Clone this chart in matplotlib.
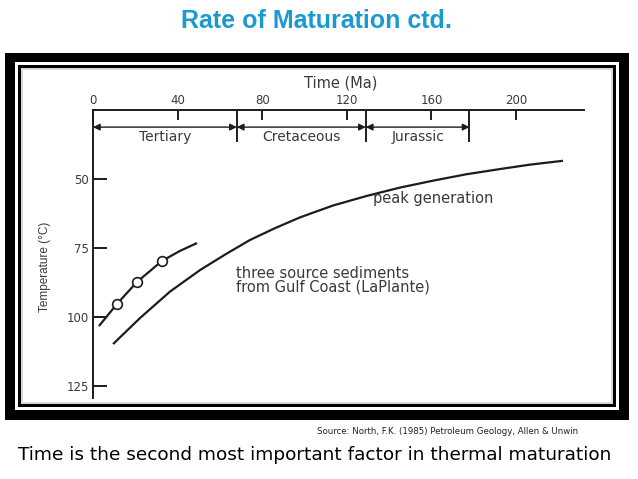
import matplotlib
matplotlib.use("Agg")
import matplotlib.pyplot as plt
from matplotlib.patches import Rectangle

# ---- data ----
time_ticks = [0, 40, 80, 120, 160, 200]
temp_ticks = [50, 75, 100, 125]
period_names = ["Tertiary", "Cretaceous", "Jurassic"]
period_bounds = [0, 68, 129, 178]

sample_t = [11.3, 20.8, 32.6]
sample_T = [95.3, 87.3, 79.7]

upper_t = [2.8, 11.3, 20.8, 32.6, 41.0, 49.2]
upper_T = [103.3, 95.3, 87.3, 79.7, 76.1, 73.2]

peak_t = [9.5, 22.2, 36.4, 50.6, 62.4, 74.2, 86.1, 97.9, 113.5, 129.6, 145.2, 160.8, 176.4, 192.4, 206.6, 222.2]
peak_T = [109.8, 100.4, 90.8, 83.0, 77.4, 72.1, 67.8, 63.9, 59.6, 56.1, 53.1, 50.6, 48.3, 46.4, 44.8, 43.4]

W, H = 638, 479
fig = plt.figure(figsize=(W / 100, H / 100), dpi=100)
fig.patch.set_facecolor("white")

def fr(x0, y0, x1, y1):
    # pixel box (top-left origin) -> figure fraction rect
    return (x0 / W, 1 - y1 / H), (x1 - x0) / W, (y1 - y0) / H

# frame
for (x0, y0, x1, y1, fc) in [(5, 53, 629, 420, "black"), (15, 62, 619, 410, "white"),
                             (18, 65, 616, 407, "black"), (21, 68, 613, 404, "#d8d8d8"),
                             (23, 70, 611, 402, "white")]:
    xy, w, h = fr(x0, y0, x1, y1)
    fig.add_artist(Rectangle(xy, w, h, transform=fig.transFigure, facecolor=fc,
                             edgecolor="none", zorder=-10))

ink = "#1c1c1c"
txt = "#3a3a3a"

# axes: left spine at t=0 (px 93), top spine at T=25 (px 110)
ax_l, ax_r, ax_t, ax_b = 93, 584, 110, 398
ax = fig.add_axes([ax_l / W, 1 - ax_b / H, (ax_r - ax_l) / W, (ax_b - ax_t) / H])
ax.set_zorder(5)
ax.set_facecolor("none")
ax.set_xlim(0, (ax_r - ax_l) / 2.115)
ax.set_ylim(50 + (ax_b - 179) / 2.76, 25)
for s in ["right", "bottom"]:
    ax.spines[s].set_visible(False)
for s in ["left", "top"]:
    ax.spines[s].set_linewidth(1.4)
    ax.spines[s].set_color(ink)

ax.xaxis.set_ticks_position("top")
ax.xaxis.set_label_position("top")
ax.set_xticks(time_ticks)
ax.set_xticklabels([str(v) for v in time_ticks])
ax.tick_params(axis="x", direction="in", length=7.5, width=1.4, color=ink, pad=2,
               labelsize=8.5, labelcolor=txt)
ax.set_yticks(temp_ticks)
ax.set_yticklabels([str(v) for v in temp_ticks])
ax.tick_params(axis="y", direction="in", length=10, width=1.4, color=ink, pad=3,
               labelsize=8.5, labelcolor=txt)

ax.set_xlabel("Time (Ma)", fontsize=10.5, color=txt, va="center")
ax.xaxis.set_label_coords((341 - ax_l) / (ax_r - ax_l), (ax_b - 83) / (ax_b - ax_t))
ax.set_ylabel("Temperature (°C)", fontsize=8.5, color=txt, va="center",
              family="Liberation Sans")
ax.yaxis.set_label_coords((45 - ax_l) / (ax_r - ax_l), (ax_b - 267) / (ax_b - ax_t))

# period boundaries and arrows
for b in period_bounds[1:]:
    ax.plot([b, b], [25, 36.6], color=ink, lw=1.4, clip_on=False, solid_capstyle="butt")
for i, name in enumerate(period_names):
    a, b = period_bounds[i], period_bounds[i + 1]
    ax.annotate("", xy=(b, 31.2), xytext=(a, 31.2),
                arrowprops=dict(arrowstyle="<|-|>", color=ink, lw=1.0,
                                shrinkA=0, shrinkB=0, mutation_scale=10))
    ax.text((a + b) / 2, 34.8, name, ha="center", va="center", fontsize=10, color=txt)

# curves
ax.plot(upper_t, upper_T, color=ink, lw=1.6, solid_capstyle="butt", zorder=3)
ax.plot(sample_t, sample_T, linestyle="none", marker="o", markersize=7,
        markerfacecolor="white", markeredgecolor=ink, markeredgewidth=1.2, zorder=4)
ax.plot(peak_t, peak_T, color=ink, lw=1.6, solid_capstyle="butt", zorder=3)

ax.text(132.4, 57.2, "peak generation", ha="left", va="center", fontsize=10.5, color=txt)
ax.text(67.6, 84.1, "three source sediments", ha="left", va="center", fontsize=10.5, color=txt)
ax.text(67.6, 89.1, "from Gulf Coast (LaPlante)", ha="left", va="center", fontsize=10.5, color=txt)

# outer texts
fig.text(316.5 / W, 1 - 21 / H, "Rate of Maturation ctd.", ha="center", va="center",
         fontsize=18, fontweight="bold", color="#1B9AD2", family="Liberation Sans")
fig.text(448 / W, 1 - 431 / H, "Source: North, F.K. (1985) Petroleum Geology, Allen & Unwin",
         ha="center", va="center", fontsize=6.2, color="#222222")
fig.text(18 / W, 1 - 455 / H, "Time is the second most important factor in thermal maturation",
         ha="left", va="center", fontsize=13.3, color="black")

fig.savefig("out.png", dpi=100)
